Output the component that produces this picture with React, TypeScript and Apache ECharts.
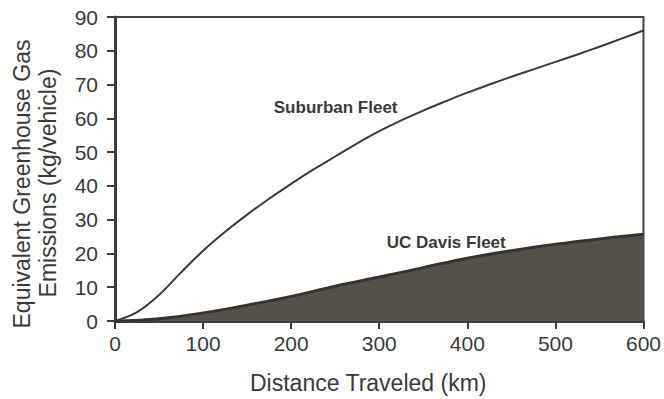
import React, { useEffect, useRef } from "react";
import * as echarts from "echarts";

const xTicks = [0, 100, 200, 300, 400, 500, 600];
const yTicks = [0, 10, 20, 30, 40, 50, 60, 70, 80, 90];

const suburbanDistance = [0, 25, 50, 75, 100, 125, 150, 175, 200, 225, 250, 275, 300, 325, 350, 375, 400, 425, 450, 475, 500, 525, 550, 575, 600];
const suburbanEmissions = [0, 2.6, 7.7, 14.4, 20.8, 26.4, 31.5, 36.2, 40.6, 44.8, 48.7, 52.6, 56.2, 59.4, 62.3, 65, 67.6, 70, 72.3, 74.5, 76.7, 78.9, 81.2, 83.6, 86];

const ucDavisDistance = [0, 50, 100, 150, 200, 250, 300, 350, 400, 450, 500, 550, 600];
const ucDavisEmissions = [0, 0.7, 2.4, 4.7, 7.3, 10.3, 13, 15.8, 18.6, 20.8, 22.7, 24.3, 25.7];

const seriesNames = ["Suburban Fleet", "UC Davis Fleet"];
const xAxisName = "Distance Traveled (km)";
const yAxisNameLines = ["Equivalent Greenhouse Gas", "Emissions (kg/vehicle)"];

export default function App() {
  const ref = useRef<HTMLDivElement>(null);
  useEffect(() => {
    if (!ref.current) return;
    const chart = echarts.init(ref.current, undefined, { renderer: "svg" });
    const font = "Liberation Sans, Arial, Helvetica, sans-serif";
    const textColor = "#3a3a3a";
    const axisColor = "#3c3c3c";
    const suburban = suburbanDistance.map((d, i) => [d, suburbanEmissions[i]]);
    const ucDavis = ucDavisDistance.map((d, i) => [d, ucDavisEmissions[i]]);
    chart.setOption({
      animation: false,
      backgroundColor: "#ffffff",
      grid: {
        left: 115,
        right: 20,
        top: 17,
        bottom: 72,
        show: true,
        borderColor: "#444444",
        borderWidth: 2,
        backgroundColor: "transparent",
      },
      xAxis: {
        type: "value",
        min: xTicks[0],
        max: xTicks[xTicks.length - 1],
        interval: 100,
        name: xAxisName,
        nameLocation: "middle",
        nameGap: 50,
        nameTextStyle: { fontFamily: font, fontSize: 23, color: textColor, padding: [0, 22, 0, 0] },
        axisLine: { show: true, onZero: false, lineStyle: { color: axisColor, width: 3 } },
        axisTick: { show: true, inside: false, length: 8, lineStyle: { color: axisColor, width: 2 } },
        axisLabel: { margin: 12, fontFamily: font, fontSize: 21, color: textColor },
        splitLine: { show: false },
      },
      yAxis: {
        type: "value",
        min: yTicks[0],
        max: yTicks[yTicks.length - 1],
        interval: 10,
        axisLine: { show: true, onZero: false, lineStyle: { color: axisColor, width: 3 } },
        axisTick: { show: true, inside: false, length: 8, lineStyle: { color: axisColor, width: 2 } },
        axisLabel: { margin: 17, fontFamily: font, fontSize: 21, color: textColor },
        splitLine: { show: false },
      },
      graphic: [
        {
          type: "text",
          x: 22,
          y: 184,
          rotation: Math.PI / 2,
          style: {
            text: yAxisNameLines[0],
            fontFamily: font,
            fontSize: 23,
            fill: textColor,
            align: "center",
            verticalAlign: "middle",
          },
        },
        {
          type: "text",
          x: 48,
          y: 183,
          rotation: Math.PI / 2,
          style: {
            text: yAxisNameLines[1],
            fontFamily: font,
            fontSize: 23,
            fill: textColor,
            align: "center",
            verticalAlign: "middle",
          },
        },
      ],
      series: [
        {
          name: seriesNames[1],
          type: "line",
          data: ucDavis,
          smooth: 0.4,
          showSymbol: false,
          lineStyle: { color: "#363432", width: 3 },
          areaStyle: { color: "#54504a", opacity: 1 },
          markPoint: {
            symbol: "rect",
            symbolSize: 1,
            itemStyle: { color: "transparent" },
            label: {
              show: true,
              formatter: seriesNames[1],
              fontFamily: font,
              fontWeight: "bold",
              fontSize: 17,
              color: textColor,
              position: "inside",
            },
            data: [{ coord: [376, 23.3] }],
          },
          z: 2,
        },
        {
          name: seriesNames[0],
          type: "line",
          data: suburban,
          smooth: 0.4,
          showSymbol: false,
          lineStyle: { color: "#3a3a3a", width: 2 },
          markPoint: {
            symbol: "rect",
            symbolSize: 1,
            itemStyle: { color: "transparent" },
            label: {
              show: true,
              formatter: seriesNames[0],
              fontFamily: font,
              fontWeight: "bold",
              fontSize: 17,
              color: textColor,
              position: "inside",
            },
            data: [{ coord: [250.5, 63.2] }],
          },
          z: 3,
        },
      ],
    });
    return () => chart.dispose();
  }, []);
  return (
    <div
      ref={ref}
      style={{ position: "fixed", left: 0, top: 0, width: 664, height: 399 }}
    />
  );
}
